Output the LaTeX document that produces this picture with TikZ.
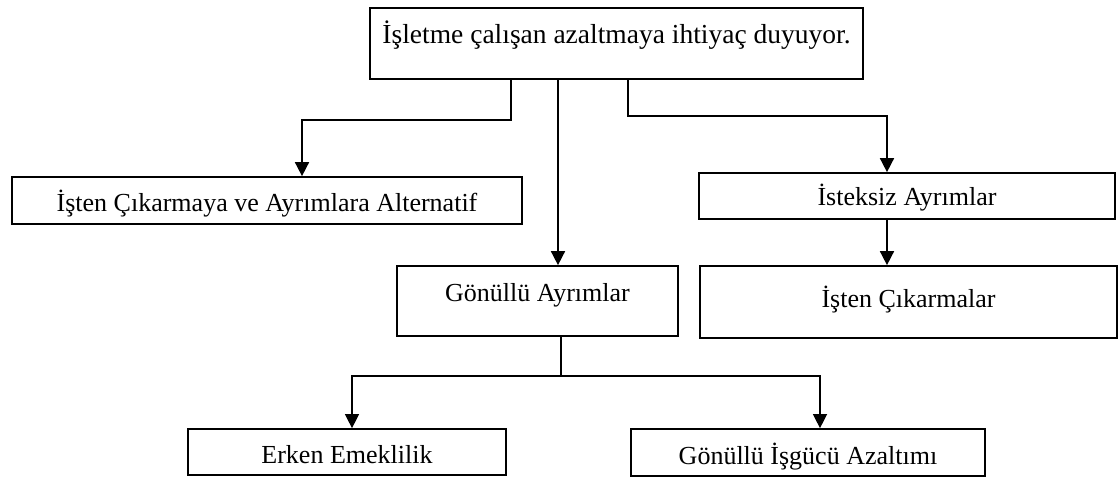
\documentclass[tikz,border=0pt]{standalone}
\usepackage{fontspec}
\setmainfont{Liberation Serif}
\usetikzlibrary{arrows.meta}
\tikzset{
  box/.style={draw, line width=1.7pt, inner sep=0pt, font=\fontsize{26}{30}\selectfont},
  conn/.style={line width=1.6pt},
  arr/.style={conn, -{Triangle[length=14pt,width=14pt]}},
  thinarr/.style={line width=1.3pt, -{Triangle[length=14pt,width=14pt]}}
}
\begin{document}
\begin{tikzpicture}[x=1pt,y=-1pt]
\useasboundingbox (0,0) rectangle (1120,477);
% boxes
\node[box, font=\fontsize{27.5}{31}\selectfont, minimum width=493pt, minimum height=71pt, text height=16pt, text depth=16pt] (top) at (616.5,43.5) {İşletme çalışan azaltmaya ihtiyaç duyuyor.};
\node[box, minimum width=510pt, minimum height=47pt, text height=26pt, text depth=4pt] (A) at (267,200.5) {İşten Çıkarmaya ve Ayrımlara Alternatif};
\node[box, minimum width=281pt, minimum height=70pt, text height=15pt, text depth=15pt] (B) at (537.5,301) {Gönüllü Ayrımlar};
\node[box, minimum width=416pt, minimum height=46pt, text height=24pt, text depth=6pt] (C) at (907,196) {İsteksiz Ayrımlar};
\node[box, minimum width=417pt, minimum height=72pt, text height=20pt, text depth=10pt] (D) at (908.5,302) {İşten Çıkarmalar};
\node[box, minimum width=318pt, minimum height=46pt, text height=26pt, text depth=4pt] (E) at (347,452) {Erken Emeklilik};
\node[box, minimum width=354pt, minimum height=47pt, text height=27pt, text depth=3pt] (F) at (808,452.5) {Gönüllü İşgücü Azaltımı};
% junctions
\coordinate (j1) at (511,120);
\coordinate (j1b) at (302,120);
\coordinate (j2) at (558,100);
\coordinate (j3) at (628,116);
\coordinate (j3b) at (887,116);
\coordinate (j5) at (561,376);
\coordinate (j5a) at (352,376);
\coordinate (j5b) at (820,376);
% connectors
\draw[arr] (top.south -| j1) -- (j1) -- (j1b) -- (A.north -| j1b);
\draw[arr] (top.south -| j2) -- (B.north -| j2);
\draw[arr] (top.south -| j3) -- (j3) -- (j3b) -- (C.north -| j3b);
\draw[arr] (C.south -| j3b) -- (D.north -| j3b);
\draw[conn] (B.south -| j5) -- (j5);
\draw[thinarr] (j5) -- (j5a) -- (E.north -| j5a);
\draw[thinarr] (j5) -- (j5b) -- (F.north -| j5b);
\end{tikzpicture}
\end{document}
